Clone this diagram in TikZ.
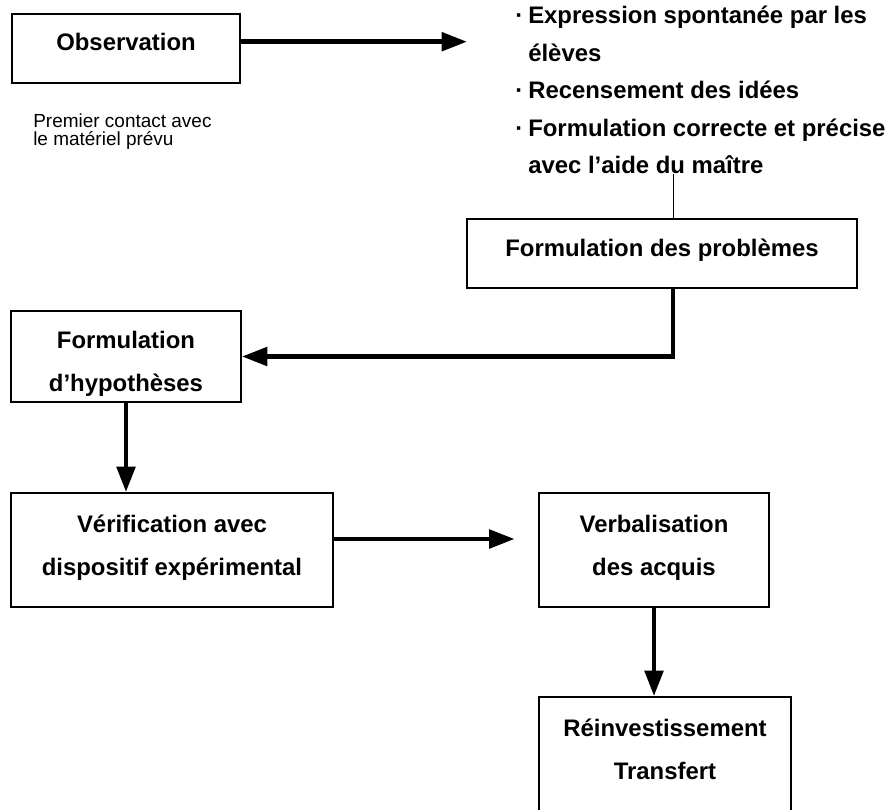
\documentclass[tikz,border=0pt]{standalone}
\usepackage{fontspec}
\setmainfont{Liberation Sans}
\usepackage{tikz}
\usetikzlibrary{positioning, arrows.meta, calc}
\tikzset{
  boite/.style={rectangle, draw=black, line width=1.4pt, align=center, font=\bfseries\fontsize{17}{30.6}\selectfont},
  fleche/.style={line width=3.2pt, -{Triangle[length=18pt, width=13pt]}},
  filet/.style={line width=0.7pt}
}
\newcommand{\puce}{\makebox[0.325cm][l]{·}}
\newcommand{\retrait}{\hspace*{0.325cm}}
% cale invisible sous la derniere ligne (remonte le texte)
\newcommand{\calebas}[1]{\rule[-#1]{0pt}{#1}}
% cale invisible au-dessus de la premiere ligne (descend le texte)
\newcommand{\calehaut}[1]{\rule{0pt}{#1}}

\begin{document}
\begin{tikzpicture}
    \useasboundingbox (0,0) rectangle (22.225,-20.225);

    % 1. Observation et remarque
    \node[boite, minimum width=5.7cm, minimum height=1.725cm] (obs) at (3.15,-1.2125) {Observation\calebas{9.2pt}};
    \node[anchor=north west, inner sep=0pt, align=left, font=\fontsize{13.5}{12.8}\selectfont] (note) at (0.825,-2.825) {Premier contact avec\\le matériel prévu};

    % 2. Liste des idées
    \node[anchor=north west, inner sep=0pt, align=left, font=\bfseries\fontsize{17}{26.7}\selectfont] (idees) at (12.875,-0.15) {%
        \puce Expression spontanée par les\\
        \retrait élèves\\
        \puce Recensement des idées\\
        \puce Formulation correcte et précise\\
        \retrait avec l’aide du maître};
    \coordinate (obsfin) at (11.675,-1.0425);

    % 3. Les étapes
    \node[boite, minimum width=9.75cm, minimum height=1.725cm] (prob) at (16.55,-6.3375) {Formulation des problèmes\calebas{7.9pt}};
    \node[boite, minimum width=5.75cm, minimum height=2.275cm] (hyp) at (3.15,-8.9125) {\calehaut{22.4pt}Formulation\\d’hypothèses};
    \node[boite, minimum width=8.05cm, minimum height=2.85cm] (verif) at (4.3,-13.75) {Vérification avec\\dispositif expérimental\calebas{6.4pt}};
    \node[boite, minimum width=5.75cm, minimum height=2.85cm] (verbal) at (16.35,-13.75) {Verbalisation\\des acquis\calebas{6.4pt}};
    \node[boite, minimum width=6.3cm, minimum height=2.85cm] (reinv) at (16.625,-18.85) {Réinvestissement\\Transfert\calebas{7pt}};
    \coordinate (veriffin) at (12.8625,-13.475);

    % 4. Liaisons
    \draw[fleche] (obs.east |- obsfin) -- (obsfin);
    \draw[filet] ([xshift=0.275cm]prob.north) -- ([xshift=0.275cm]prob.north |- idees.south);
    \draw[fleche] ([xshift=0.275cm]prob.south) |- (hyp.east);
    \draw[fleche] (hyp.south) -- (hyp.south |- verif.north);
    \draw[fleche] (verif.east |- veriffin) -- (veriffin);
    \draw[fleche] (verbal.south) -- (verbal.south |- reinv.north);

\end{tikzpicture}
\end{document}
